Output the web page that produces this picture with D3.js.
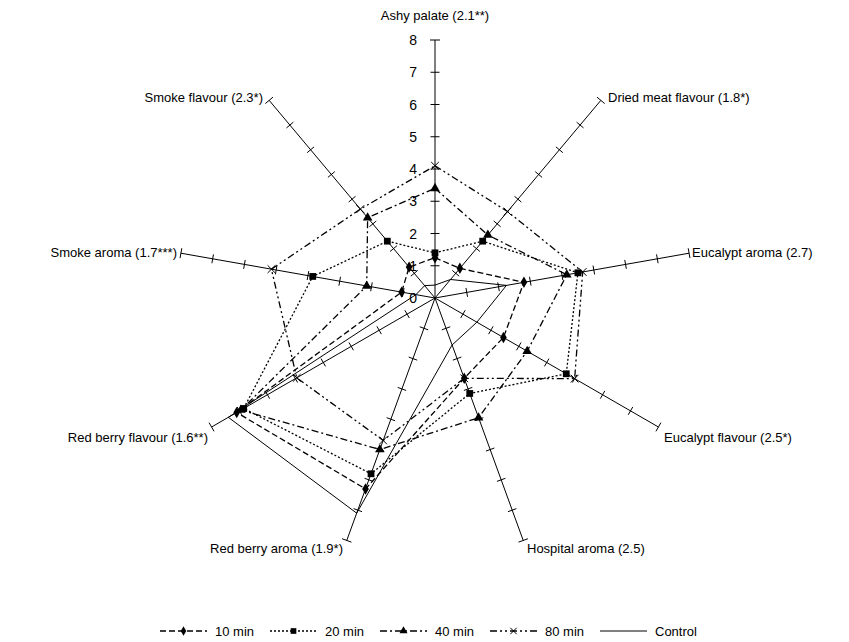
<!DOCTYPE html>
<html>
<head>
<meta charset="utf-8">
<script src="https://cdn.jsdelivr.net/npm/d3@7"></script>
<style>
  body { margin: 0; background: #fff; }
  svg text { font-family: "Liberation Sans", Arial, sans-serif; fill: #000; }
</style>
</head>
<body>
<svg id="chart"></svg>
<script>
// attributes, clockwise from the top
var attributes = ["Ashy palate (2.1**)", "Dried meat flavour (1.8*)", "Eucalypt aroma (2.7)",
  "Eucalypt flavour (2.5*)", "Hospital aroma (2.5)", "Red berry aroma (1.9*)",
  "Red berry flavour (1.6**)", "Smoke aroma (1.7***)", "Smoke flavour (2.3*)"];

var min10 = [1.25, 1.2, 2.8, 2.45, 2.65, 6.3, 7.1, 1.05, 1.25];
var min20 = [1.4, 2.3, 4.5, 4.7, 3.15, 5.8, 6.85, 3.85, 2.3];
var min40 = [3.4, 2.55, 4.15, 3.3, 3.95, 5.0, 6.95, 2.15, 3.25];
var min80 = [4.1, 3.5, 4.65, 5.0, 2.65, 4.7, 4.95, 5.15, 3.6];
var control = [0.4, 0.75, 2.25, 1.5, 1.55, 7.1, 7.4, 0.6, 0.5];

var seriesNames = ["10 min", "20 min", "40 min", "80 min", "Control"];
var tickValues = [0, 1, 2, 3, 4, 5, 6, 7, 8];

var width = 849, height = 642;
var cx = 435, cy = 298;
var svg = d3.select("#chart").attr("width", width).attr("height", height);

var r = d3.scaleLinear().domain([0, 8]).range([0, 258]);
var angle = d3.scaleLinear().domain([0, attributes.length]).range([0, 2 * Math.PI]);

function px(i, v) { return cx + r(v) * Math.sin(angle(i)); }
function py(i, v) { return cy - r(v) * Math.cos(angle(i)); }

var styles = [
  { data: min10, dash: "6,3", symbol: d3.symbolDiamond, size: 38, fill: true },
  { data: min20, dash: "2,2", symbol: d3.symbolSquare, size: 46, fill: true },
  { data: min40, dash: "7,3,2,3", symbol: d3.symbolTriangle, size: 40, fill: true },
  { data: min80, dash: "7,3,2,3,2,3", symbol: d3.symbolTimes, size: 40, fill: false },
  { data: control, dash: null, symbol: null }
];

var g = svg.append("g");

// axes
var axes = g.append("g").attr("class", "axes");
attributes.forEach(function(name, i) {
  var a = angle(i);
  axes.append("line")
    .attr("x1", cx).attr("y1", cy)
    .attr("x2", px(i, 8)).attr("y2", py(i, 8))
    .attr("stroke", "#000").attr("stroke-width", 1);
  // tick marks
  tickValues.slice(1).forEach(function(t) {
    var len = t == 8 ? 5 : 4.5;
    var nx = Math.cos(a), ny = Math.sin(a);
    axes.append("line")
      .attr("x1", px(i, t) - nx * len).attr("y1", py(i, t) - ny * len)
      .attr("x2", px(i, t) + nx * len).attr("y2", py(i, t) + ny * len)
      .attr("stroke", "#000").attr("stroke-width", 1);
  });
});

// tick labels on the first axis
g.append("g").selectAll("text").data(tickValues).enter().append("text")
  .attr("x", cx - 18).attr("y", function(d) { return py(0, d) + 5; })
  .attr("text-anchor", "end").attr("font-size", 14)
  .text(function(d) { return d; });

// axis labels
var labelPos = [
  { x: 435, y: 20, anchor: "middle" },
  { x: 608, y: 102, anchor: "start" },
  { x: 692, y: 257, anchor: "start" },
  { x: 664, y: 442, anchor: "start" },
  { x: 527, y: 553, anchor: "start" },
  { x: 343, y: 553, anchor: "end" },
  { x: 208, y: 442, anchor: "end" },
  { x: 177, y: 257, anchor: "end" },
  { x: 263, y: 102, anchor: "end" }
];
g.append("g").selectAll("text").data(attributes).enter().append("text")
  .attr("x", function(d, i) { return labelPos[i].x; })
  .attr("y", function(d, i) { return labelPos[i].y; })
  .attr("text-anchor", function(d, i) { return labelPos[i].anchor; })
  .attr("font-size", 13)
  .text(function(d) { return d; });

// series
var radial = d3.lineRadial()
  .angle(function(d, i) { return angle(i); })
  .radius(function(d) { return r(d); })
  .curve(d3.curveLinearClosed);

styles.forEach(function(s) {
  var sg = g.append("g").attr("transform", "translate(" + cx + "," + cy + ")");
  sg.append("path")
    .attr("d", radial(s.data))
    .attr("fill", "none")
    .attr("stroke", "#000")
    .attr("stroke-width", s.dash ? 1.3 : 1)
    .attr("stroke-dasharray", s.dash);
  if (s.symbol) {
    sg.selectAll("path.m").data(s.data).enter().append("path")
      .attr("class", "m")
      .attr("transform", function(d, i) {
        return "translate(" + (px(i, d) - cx) + "," + (py(i, d) - cy) + ")";
      })
      .attr("d", d3.symbol().type(s.symbol).size(s.size))
      .attr("fill", s.fill ? "#000" : "none")
      .attr("stroke", "#000")
      .attr("stroke-width", s.fill ? 0 : 1);
  }
});

// legend
var legendX = [160, 270, 380, 490, 600];
var legend = svg.append("g").attr("transform", "translate(0,631)");
styles.forEach(function(s, i) {
  var x0 = legendX[i];
  var lw = 47;
  legend.append("line")
    .attr("x1", x0).attr("x2", x0 + lw).attr("y1", 0).attr("y2", 0)
    .attr("stroke", "#000").attr("stroke-width", s.dash ? 1.3 : 1)
    .attr("stroke-dasharray", s.dash);
  if (s.symbol) {
    legend.append("path")
      .attr("transform", "translate(" + (x0 + lw / 2) + ",0)")
      .attr("d", d3.symbol().type(s.symbol).size(s.size * 0.7))
      .attr("fill", s.fill ? "#000" : "none")
      .attr("stroke", "#000")
      .attr("stroke-width", s.fill ? 0 : 1);
  }
  legend.append("text")
    .attr("x", x0 + lw + 8).attr("y", 4.5)
    .attr("font-size", 13)
    .text(seriesNames[i]);
});
</script>
</body>
</html>
